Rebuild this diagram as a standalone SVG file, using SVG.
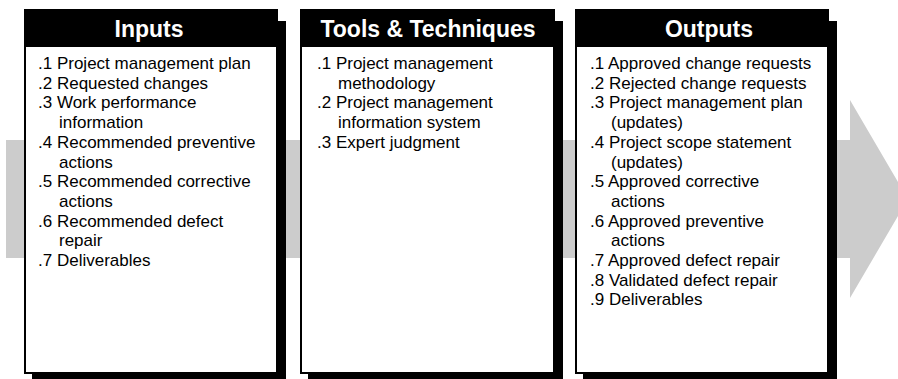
<svg xmlns="http://www.w3.org/2000/svg" width="898" height="379" viewBox="0 0 898 379">
<style>
.shadow{fill:#000}
.frame{fill:#000}
.body{fill:#fff}
.hd{font-family:"Liberation Sans",Arial,sans-serif;font-weight:bold;font-size:23px;fill:#fff;text-anchor:middle}
.tx{font-family:"Liberation Sans",Arial,sans-serif;font-size:17px;fill:#000}
</style>
<g id="flow-arrow">
<polygon points="6,140 850,140 850,100 908,199 850,298 850,258 6,258" fill="#cccccc"/>
</g>
<g id="inputs">
<rect class="shadow" x="32" y="21" width="254" height="360"/>
<rect class="frame" x="24" y="9" width="254" height="365"/>
<rect class="body" x="26" y="47" width="250" height="325"/>
<text class="hd" x="149" y="37">Inputs</text>
<text class="tx">
<tspan x="38" y="69">.1 Project management plan</tspan>
<tspan x="38" y="88.7">.2 Requested changes</tspan>
<tspan x="38" y="108.4">.3 Work performance</tspan>
<tspan x="59" y="128.1">information</tspan>
<tspan x="38" y="147.8">.4 Recommended preventive</tspan>
<tspan x="59" y="167.5">actions</tspan>
<tspan x="38" y="187.2">.5 Recommended corrective</tspan>
<tspan x="59" y="206.9">actions</tspan>
<tspan x="38" y="226.6">.6 Recommended defect</tspan>
<tspan x="59" y="246.3">repair</tspan>
<tspan x="38" y="266">.7 Deliverables</tspan>
</text>
</g>
<g id="tools">
<rect class="shadow" x="308" y="21" width="255" height="360"/>
<rect class="frame" x="300" y="9" width="255" height="365"/>
<rect class="body" x="302" y="47" width="251" height="325"/>
<text class="hd" x="428" y="37" font-size="22.5">Tools &amp; Techniques</text>
<text class="tx">
<tspan x="317" y="69">.1 Project management</tspan>
<tspan x="338" y="88.7">methodology</tspan>
<tspan x="317" y="108.4">.2 Project management</tspan>
<tspan x="338" y="128.1">information system</tspan>
<tspan x="317" y="147.8">.3 Expert judgment</tspan>
</text>
</g>
<g id="outputs">
<rect class="shadow" x="583" y="21" width="254" height="360"/>
<rect class="frame" x="575" y="9" width="254" height="365"/>
<rect class="body" x="577" y="47" width="250" height="325"/>
<text class="hd" x="709" y="37">Outputs</text>
<text class="tx">
<tspan x="590" y="69">.1 Approved change requests</tspan>
<tspan x="590" y="88.7">.2 Rejected change requests</tspan>
<tspan x="590" y="108.4">.3 Project management plan</tspan>
<tspan x="611" y="128.1">(updates)</tspan>
<tspan x="590" y="147.8">.4 Project scope statement</tspan>
<tspan x="611" y="167.5">(updates)</tspan>
<tspan x="590" y="187.2">.5 Approved corrective</tspan>
<tspan x="611" y="206.9">actions</tspan>
<tspan x="590" y="226.6">.6 Approved preventive</tspan>
<tspan x="611" y="246.3">actions</tspan>
<tspan x="590" y="266">.7 Approved defect repair</tspan>
<tspan x="590" y="285.7">.8 Validated defect repair</tspan>
<tspan x="590" y="305.4">.9 Deliverables</tspan>
</text>
</g>
<g id="connectors"></g>
</svg>
